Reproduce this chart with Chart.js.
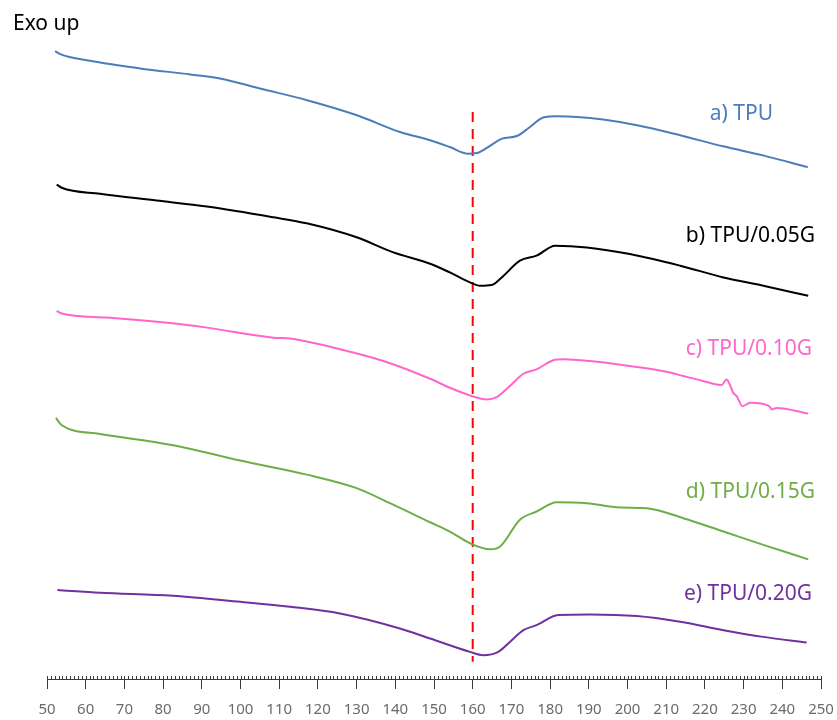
<!DOCTYPE html>
<html>
<head>
<meta charset="utf-8">
<script src="https://cdn.jsdelivr.net/npm/chart.js@4.4.1/dist/chart.umd.min.js"></script>
<style>
  html, body { margin: 0; padding: 0; background: #ffffff; }
  #wrap { position: relative; width: 837px; height: 720px; }
</style>
</head>
<body>
<div id="wrap"><canvas id="dsc" width="837" height="720"></canvas></div>
<script>
// DSC heating curves (heat flow, arbitrary units, curves offset vertically), temperature in °C
const tempA = [52.1, 53.4, 61.1, 74.0, 87.0, 94.7, 105.0, 117.2, 130.1, 141.2, 149.0, 154.1, 158.8, 161.1, 164.0, 167.6, 171.4, 174.8, 178.2, 181.8, 187.0, 193.7, 202.5, 213.6, 224.7, 235.0, 246.6];
const heatA = [97.81, 97.34, 96.30, 95.11, 94.17, 93.55, 91.98, 90.16, 87.81, 85.20, 83.91, 82.86, 81.83, 81.92, 82.86, 84.17, 84.58, 85.98, 87.45, 87.66, 87.55, 87.14, 86.25, 84.69, 82.97, 81.56, 79.73];

const tempB = [52.5, 53.8, 63.7, 78.3, 91.3, 108.5, 117.1, 130.0, 139.5, 149.0, 154.1, 159.3, 161.9, 164.9, 167.5, 172.2, 176.5, 181.3, 189.5, 200.6, 213.6, 224.8, 235.1, 246.7];
const heatB = [77.03, 76.52, 75.58, 74.53, 73.59, 71.92, 70.98, 68.80, 66.45, 64.69, 63.33, 61.77, 61.25, 61.36, 62.55, 65.16, 65.94, 67.50, 67.23, 66.20, 64.38, 62.55, 61.25, 59.69];

const tempC = [52.5, 53.8, 65.4, 80.5, 91.3, 108.5, 112.8, 125.7, 136.9, 149.0, 154.1, 159.3, 163.6, 166.2, 169.6, 173.1, 176.5, 180.8, 183.4, 190.3, 200.6, 210.1, 214.4, 217.9, 223.0, 224.3, 225.6, 226.5, 227.3, 228.2, 229.7, 231.7, 236.6, 237.3, 238.5, 246.7];
const heatC = [57.34, 56.92, 56.30, 55.52, 54.73, 53.17, 53.02, 51.36, 49.53, 46.77, 45.36, 44.17, 43.55, 43.91, 45.63, 47.55, 48.23, 49.64, 49.80, 49.53, 48.75, 47.86, 47.19, 46.67, 45.89, 45.78, 46.67, 45.78, 44.58, 44.06, 42.50, 43.02, 42.50, 41.98, 42.23, 41.36];

const tempD = [52.3, 53.8, 63.7, 82.6, 99.9, 117.1, 130.0, 138.6, 149.0, 154.1, 159.3, 164.5, 167.1, 172.2, 176.5, 181.7, 189.5, 198.1, 205.0, 214.4, 224.8, 235.1, 246.7];
const heatD = [40.67, 39.53, 38.17, 36.41, 34.02, 31.83, 29.73, 27.39, 24.42, 22.97, 21.14, 20.20, 20.63, 24.80, 26.09, 27.55, 27.39, 26.72, 26.61, 25.05, 22.97, 20.89, 18.64];

const tempE = [52.7, 63.7, 82.6, 99.9, 112.8, 125.7, 141.2, 149.0, 159.3, 162.7, 166.6, 169.6, 173.1, 176.5, 182.1, 190.3, 202.4, 213.6, 224.8, 235.1, 246.3];
const heatE = [13.86, 13.44, 12.97, 12.03, 11.25, 10.20, 7.86, 6.30, 4.22, 3.70, 4.22, 5.78, 7.61, 8.39, 9.95, 10.05, 9.80, 8.91, 7.61, 6.56, 5.67];

// reference line at the melting temperature
const markerTemp = [160, 160];
const markerHeat = [88.3, 2.7];

const seriesNames = ['a) TPU', 'b) TPU/0.05G', 'c) TPU/0.10G', 'd) TPU/0.15G', 'e) TPU/0.20G'];
const seriesColors = ['#4a7ebb', '#000000', '#ff66cc', '#70ad47', '#7030a0'];

const xTickLabels = [50, 60, 70, 80, 90, 100, 110, 120, 130, 140, 150, 160, 170, 180, 190, 200, 210, 220, 230, 240, 250];

const zip = (xs, ys) => xs.map((x, i) => ({ x: x, y: ys[i] }));
const temps = [tempA, tempB, tempC, tempD, tempE];
const heats = [heatA, heatB, heatC, heatD, heatE];

const datasets = temps.map((t, i) => ({
  label: seriesNames[i],
  data: zip(t, heats[i]),
  borderColor: seriesColors[i],
  borderWidth: 2,
  pointRadius: 0,
  cubicInterpolationMode: 'monotone',
  fill: false
}));
datasets.push({
  label: 'Tm',
  data: zip(markerTemp, markerHeat),
  borderColor: '#ff0000',
  borderWidth: 2,
  borderDash: [10, 7],
  pointRadius: 0,
  fill: false
});

// curve names, drawn right-aligned beside each curve
const curveLabels = [
  { text: seriesNames[0], color: seriesColors[0], right: 773, base: 120 },
  { text: seriesNames[1], color: seriesColors[1], right: 815, base: 242 },
  { text: seriesNames[2], color: seriesColors[2], right: 812, base: 355 },
  { text: seriesNames[3], color: seriesColors[3], right: 815, base: 498 },
  { text: seriesNames[4], color: seriesColors[4], right: 812, base: 600 }
];

const annotations = {
  id: 'annotations',
  afterDraw(chart) {
    const ctx = chart.ctx;
    const xs = chart.scales.x;
    const axisY = chart.chartArea.bottom;
    ctx.save();
    // minor ticks every 1 °C, above the axis line
    ctx.strokeStyle = '#3a3a3a';
    ctx.lineWidth = 1;
    ctx.beginPath();
    for (let t = xs.min; t <= xs.max; t += 1) {
      const px = Math.round(xs.getPixelForValue(t)) + 0.5;
      ctx.moveTo(px, axisY - 3);
      ctx.lineTo(px, axisY);
    }
    ctx.stroke();
    // texts
    ctx.font = '21px "Noto Sans"';
    ctx.textBaseline = 'alphabetic';
    ctx.textAlign = 'left';
    ctx.fillStyle = '#000000';
    ctx.fillText('Exo up', 13, 30);
    ctx.textAlign = 'right';
    curveLabels.forEach(l => {
      ctx.fillStyle = l.color;
      ctx.fillText(l.text, l.right, l.base);
    });
    ctx.restore();
  }
};

new Chart(document.getElementById('dsc'), {
  type: 'line',
  data: { datasets: datasets },
  options: {
    responsive: false,
    animation: false,
    events: [],
    layout: { padding: { left: 47, right: 16, top: 37, bottom: -11 } },
    plugins: { legend: { display: false }, tooltip: { enabled: false } },
    scales: {
      x: {
        type: 'linear',
        min: xTickLabels[0],
        max: xTickLabels[xTickLabels.length - 1],
        afterBuildTicks: (scale) => { scale.ticks = xTickLabels.map(v => ({ value: v })); },
        // the end labels sit inside the page margins, so no extra side room is needed
        afterFit: (scale) => { scale.paddingLeft = 0; scale.paddingRight = 0; },
        ticks: {
          color: '#6a6a6a',
          font: { family: '"Noto Sans"', size: 15 },
          padding: 12,
          maxRotation: 0,
          autoSkip: false
        },
        grid: {
          drawOnChartArea: false,
          drawTicks: true,
          tickLength: 10,
          color: '#3a3a3a',
          lineWidth: 1
        },
        border: { display: true, color: '#3a3a3a', width: 1 }
      },
      y: {
        display: false,
        min: 0,
        max: 100
      }
    }
  },
  plugins: [annotations]
});
</script>
</body>
</html>
